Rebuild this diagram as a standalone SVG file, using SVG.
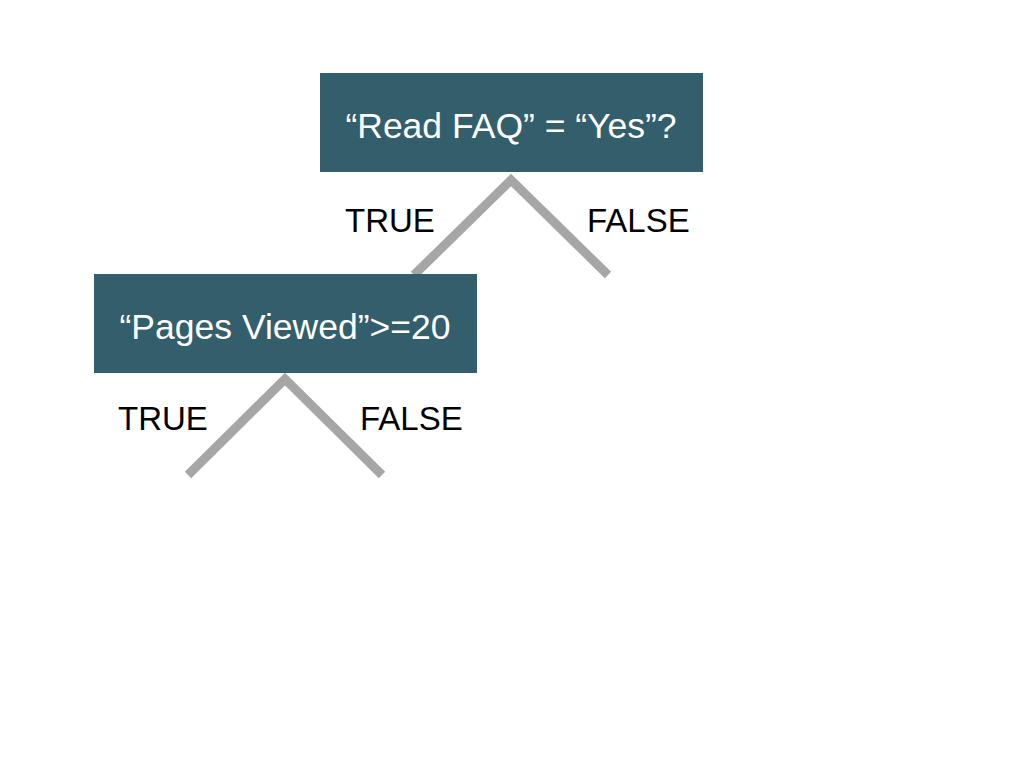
<svg xmlns="http://www.w3.org/2000/svg" width="1024" height="768" viewBox="0 0 1024 768">
<style>
.box{fill:#335e6c}
.nt{font-family:"Liberation Sans",Arial,sans-serif;font-size:35.5px;fill:#ffffff;text-anchor:middle}
.lbl{font-family:"Liberation Sans",Arial,sans-serif;font-size:33px;fill:#000000}
.edge{fill:none;stroke:#a6a6a6;stroke-width:9;stroke-linejoin:miter}
</style>
<rect width="1024" height="768" fill="#ffffff"/>
<g id="connectors">
<polyline class="edge" points="414,275 511,180 608,275"/>
<polyline class="edge" points="188,475 285,379 382,475"/>
</g>
<g id="node-read-faq">
<rect class="box" x="320" y="73" width="383" height="99"/>
<text class="nt" x="511" y="138">“Read FAQ” = “Yes”?</text>
</g>
<g id="node-pages-viewed">
<rect class="box" x="94" y="274" width="383" height="99"/>
<text class="nt" x="285" y="339">“Pages Viewed”&gt;=20</text>
</g>
<g id="labels">
<text class="lbl" x="345" y="232">TRUE</text>
<text class="lbl" x="587" y="232">FALSE</text>
<text class="lbl" x="118" y="430">TRUE</text>
<text class="lbl" x="360" y="430">FALSE</text>
</g>
</svg>
